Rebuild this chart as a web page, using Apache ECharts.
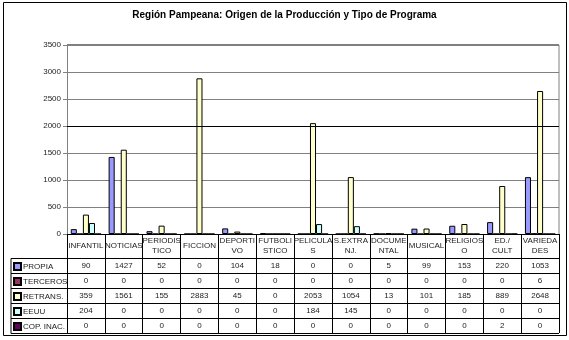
<!DOCTYPE html>
<html>
<head>
<meta charset="utf-8">
<script src="https://cdn.jsdelivr.net/npm/echarts@6/dist/echarts.min.js"></script>
<style>
html,body{margin:0;padding:0;background:#fff;}
#c{width:569px;height:340px;}
</style>
</head>
<body>
<div id="c"></div>
<script>
const categories = ["INFANTIL","NOTICIAS","PERIODIS\nTICO","FICCION","DEPORTI\nVO","FUTBOLI\nSTICO","PELICULA\nS","S.EXTRA\nNJ.","DOCUME\nNTAL","MUSICAL","RELIGIOS\nO","ED./\nCULT","VARIEDA\nDES"];
const seriesNames = ["PROPIA","TERCEROS","RETRANS.","EEUU","COP. INAC."];
const propia   = [90,1427,52,0,104,18,0,0,5,99,153,220,1053];
const terceros = [0,0,0,0,0,0,0,0,0,0,0,0,6];
const retrans  = [359,1561,155,2883,45,0,2053,1054,13,101,185,889,2648];
const eeuu     = [204,0,0,0,0,0,184,145,0,0,0,0,0];
const copInac  = [0,0,0,0,0,0,0,0,0,0,0,2,0];
const yTicks = [0,500,1000,1500,2000,2500,3000,3500];
const colors = ["#9999FF","#993366","#FFFFCC","#CCFFFF","#660066"];
const allValues = [propia, terceros, retrans, eeuu, copInac];

const font = "'Liberation Sans', Arial, sans-serif";
const chart = echarts.init(document.getElementById('c'));

const gridL = 67, gridR = 559, gridT = 45, gridB = 234;
const rowTop = 258, rowH = 15;

const xAxes = [{
  type: 'category', data: categories, gridIndex: 0, position: 'bottom',
  axisLine: {show: true, lineStyle: {color: '#000', width: 1}},
  axisTick: {show: true, length: 99, lineStyle: {color: '#000', width: 1}},
  axisLabel: {interval: 0, margin: 12, verticalAlign: 'middle', fontFamily: font, fontSize: 8, color: '#222', lineHeight: 10}
}];
allValues.forEach((vals, i) => {
  xAxes.push({
    type: 'category', data: categories, gridIndex: 0, position: 'bottom',
    axisLine: {show: false}, axisTick: {show: false},
    axisLabel: {interval: 0, margin: (rowTop - gridB) + rowH * i + 7.5, verticalAlign: 'middle',
      fontFamily: font, fontSize: 8, color: '#222',
      formatter: (v, idx) => String(vals[idx])}
  });
});

const graphics = [
  {type: 'rect', shape: {x: 3.5, y: 2.5, width: 563, height: 333}, style: {fill: 'none', stroke: '#000', lineWidth: 1}, z: 0},
  {type: 'line', shape: {x1: 11, y1: 258.5, x2: 11, y2: 333.5}, style: {stroke: '#000', lineWidth: 1}}
];
for (let i = 0; i <= 5; i++) {
  const y = rowTop + rowH * i + 0.5;
  graphics.push({type: 'line', shape: {x1: 11, y1: y, x2: gridR, y2: y}, style: {stroke: '#000', lineWidth: 1}});
}
graphics.push({type: 'line', shape: {x1: gridL, y1: gridT, x2: gridR, y2: gridT}, style: {stroke: '#808080', lineWidth: 2}});
graphics.push({type: 'line', shape: {x1: gridR, y1: gridT, x2: gridR, y2: gridB}, style: {stroke: '#808080', lineWidth: 1}});

const legends = seriesNames.map((name, i) => ({
  orient: 'horizontal', left: 13, top: rowTop + rowH * i + 4, padding: 0,
  itemWidth: 7, itemHeight: 7, itemGap: 0, selectedMode: false, icon: 'rect',
  textStyle: {fontFamily: font, fontSize: 8, color: '#222', padding: [0,0,0,-3]},
  data: [name]
}));

chart.setOption({
  animation: false,
  backgroundColor: '#fff',
  title: {text: 'Región Pampeana: Origen de la Producción y Tipo de Programa', left: 'center', top: 5,
    textStyle: {fontFamily: font, fontSize: 10, fontWeight: 'bold', color: '#000'}},
  legend: legends,
  grid: {left: gridL, right: 569 - gridR, top: gridT, bottom: 340 - gridB, containLabel: false},
  xAxis: xAxes,
  yAxis: {
    type: 'value', min: 0, max: 3500, interval: 500,
    axisLine: {show: true, lineStyle: {color: '#808080'}},
    axisTick: {show: true, length: 4, lineStyle: {color: '#808080'}},
    axisLabel: {fontFamily: font, fontSize: 8, color: '#222', margin: 6, formatter: v => String(v)},
    splitLine: {show: true, lineStyle: {color: '#808080', width: 1}}
  },
  series: seriesNames.map((name, i) => ({
    name, type: 'bar', xAxisIndex: 0, data: allValues[i],
    barGap: '0%', barCategoryGap: '20%',
    itemStyle: {color: colors[i], borderColor: '#000', borderWidth: 1},
    markLine: i === 0 ? {
      silent: true, symbol: 'none', label: {show: false},
      lineStyle: {color: '#000', type: 'solid', width: 1},
      data: [{yAxis: yTicks[4]}]
    } : undefined
  })),
  graphic: graphics
});
</script>
</body>
</html>
